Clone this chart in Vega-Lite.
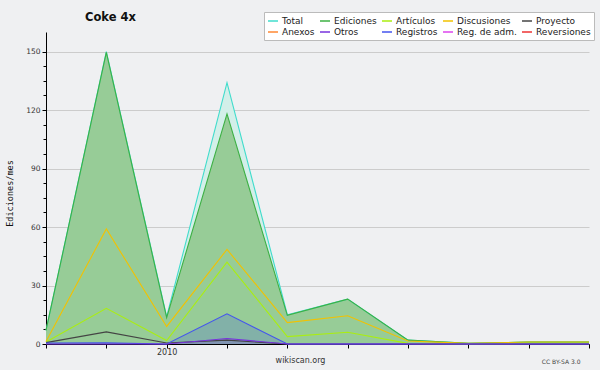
{
  "$schema": "https://vega.github.io/schema/vega-lite/v6.json",
  "width": 543,
  "height": 312,
  "autosize": "none",
  "padding": {"left": 46, "top": 32, "right": 11, "bottom": 26},
  "background": "#eff0f2",
  "config": {"view": {"stroke": null}, "font": "DejaVu Sans"},
  "title": {"text": "Coke 4x", "anchor": "start", "frame": "group", "dx": 39, "offset": -21, "baseline": "alphabetic", "fontSize": 11.5, "fontWeight": "bold", "color": "#111111", "font": "DejaVu Sans"},
  "data": {"values": [
    {"mes": "2009-11", "serie": "Total", "valor": 7},
    {"mes": "2009-12", "serie": "Total", "valor": 150},
    {"mes": "2010-01", "serie": "Total", "valor": 14},
    {"mes": "2010-02", "serie": "Total", "valor": 134},
    {"mes": "2010-03", "serie": "Total", "valor": 15},
    {"mes": "2010-04", "serie": "Total", "valor": 23},
    {"mes": "2010-05", "serie": "Total", "valor": 2},
    {"mes": "2010-06", "serie": "Total", "valor": 0.3},
    {"mes": "2010-07", "serie": "Total", "valor": 1},
    {"mes": "2010-08", "serie": "Total", "valor": 1},
    {"mes": "2009-11", "serie": "Ediciones", "valor": 7},
    {"mes": "2009-12", "serie": "Ediciones", "valor": 149.5},
    {"mes": "2010-01", "serie": "Ediciones", "valor": 13.5},
    {"mes": "2010-02", "serie": "Ediciones", "valor": 118},
    {"mes": "2010-03", "serie": "Ediciones", "valor": 14.7},
    {"mes": "2010-04", "serie": "Ediciones", "valor": 23},
    {"mes": "2010-05", "serie": "Ediciones", "valor": 2},
    {"mes": "2010-06", "serie": "Ediciones", "valor": 0.3},
    {"mes": "2010-07", "serie": "Ediciones", "valor": 1},
    {"mes": "2010-08", "serie": "Ediciones", "valor": 1},
    {"mes": "2009-11", "serie": "Discusiones", "valor": 1.3},
    {"mes": "2009-12", "serie": "Discusiones", "valor": 59},
    {"mes": "2010-01", "serie": "Discusiones", "valor": 9},
    {"mes": "2010-02", "serie": "Discusiones", "valor": 48.5},
    {"mes": "2010-03", "serie": "Discusiones", "valor": 11},
    {"mes": "2010-04", "serie": "Discusiones", "valor": 14.5},
    {"mes": "2010-05", "serie": "Discusiones", "valor": 1.5},
    {"mes": "2010-06", "serie": "Discusiones", "valor": 0.3},
    {"mes": "2010-07", "serie": "Discusiones", "valor": 1},
    {"mes": "2010-08", "serie": "Discusiones", "valor": 1},
    {"mes": "2009-11", "serie": "Artículos", "valor": 1},
    {"mes": "2009-12", "serie": "Artículos", "valor": 18.3},
    {"mes": "2010-01", "serie": "Artículos", "valor": 1.8},
    {"mes": "2010-02", "serie": "Artículos", "valor": 42},
    {"mes": "2010-03", "serie": "Artículos", "valor": 3.8},
    {"mes": "2010-04", "serie": "Artículos", "valor": 6},
    {"mes": "2010-05", "serie": "Artículos", "valor": 0.3},
    {"mes": "2010-06", "serie": "Artículos", "valor": 0},
    {"mes": "2010-07", "serie": "Artículos", "valor": 0.3},
    {"mes": "2010-08", "serie": "Artículos", "valor": 0.3},
    {"mes": "2009-11", "serie": "Proyecto", "valor": 0.7},
    {"mes": "2009-12", "serie": "Proyecto", "valor": 6.2},
    {"mes": "2010-01", "serie": "Proyecto", "valor": 0.5},
    {"mes": "2010-02", "serie": "Proyecto", "valor": 2},
    {"mes": "2010-03", "serie": "Proyecto", "valor": 0},
    {"mes": "2010-04", "serie": "Proyecto", "valor": 0},
    {"mes": "2010-05", "serie": "Proyecto", "valor": 0},
    {"mes": "2010-06", "serie": "Proyecto", "valor": 0},
    {"mes": "2010-07", "serie": "Proyecto", "valor": 0},
    {"mes": "2010-08", "serie": "Proyecto", "valor": 0},
    {"mes": "2009-11", "serie": "Registros", "valor": 0.5},
    {"mes": "2009-12", "serie": "Registros", "valor": 0.6},
    {"mes": "2010-01", "serie": "Registros", "valor": 0},
    {"mes": "2010-02", "serie": "Registros", "valor": 15.5},
    {"mes": "2010-03", "serie": "Registros", "valor": 0},
    {"mes": "2010-04", "serie": "Registros", "valor": 0},
    {"mes": "2010-05", "serie": "Registros", "valor": 0},
    {"mes": "2010-06", "serie": "Registros", "valor": 0},
    {"mes": "2010-07", "serie": "Registros", "valor": 0},
    {"mes": "2010-08", "serie": "Registros", "valor": 0},
    {"mes": "2009-11", "serie": "Otros", "valor": 0},
    {"mes": "2009-12", "serie": "Otros", "valor": 0},
    {"mes": "2010-01", "serie": "Otros", "valor": 0},
    {"mes": "2010-02", "serie": "Otros", "valor": 2.8},
    {"mes": "2010-03", "serie": "Otros", "valor": 0},
    {"mes": "2010-04", "serie": "Otros", "valor": 0},
    {"mes": "2010-05", "serie": "Otros", "valor": 0},
    {"mes": "2010-06", "serie": "Otros", "valor": 0},
    {"mes": "2010-07", "serie": "Otros", "valor": 0},
    {"mes": "2010-08", "serie": "Otros", "valor": 0}
  ]},
  "layer": [
    {
      "transform": [{"filter": "datum.serie == 'Total'"}],
      "mark": {"type": "area", "color": "#d3efe9"},
      "encoding": {
        "x": {"field": "mes", "type": "ordinal", "scale": {"type": "point", "padding": 0}, "axis": null},
        "y": {"field": "valor", "type": "quantitative", "scale": {"domain": [0, 150]}, "axis": null}
      }
    },
    {
      "transform": [{"filter": "datum.serie == 'Ediciones'"}],
      "mark": {"type": "area", "color": "#97cc97"},
      "encoding": {
        "x": {"field": "mes", "type": "ordinal", "axis": null},
        "y": {"field": "valor", "type": "quantitative", "axis": null}
      }
    },
    {
      "transform": [{"filter": "datum.serie == 'Registros' || datum.serie == 'Otros'"}],
      "mark": {"type": "area", "opacity": 0.2},
      "encoding": {
        "x": {"field": "mes", "type": "ordinal", "axis": null},
        "y": {"field": "valor", "type": "quantitative", "axis": null, "stack": null},
        "fill": {"field": "serie", "type": "nominal", "scale": {"domain": ["Registros", "Otros"], "range": ["#3344ee", "#7722dd"]}, "legend": null}
      }
    },
    {
      "mark": {"type": "line", "opacity": 0},
      "encoding": {
        "x": {"field": "mes", "type": "ordinal", "axis": {"orient": "bottom", "labels": false, "ticks": false, "domain": false, "grid": false, "title": "CC BY-SA 3.0", "titleFontSize": 6, "titleFontWeight": "normal", "titleColor": "#444444", "titleX": 534, "titleY": 17, "titleAlign": "right", "titleBaseline": "middle"}},
        "y": {"field": "valor", "type": "quantitative", "axis": {"orient": "left", "values": [7.5, 15, 22.5, 37.5, 45, 52.5, 67.5, 75, 82.5, 97.5, 105, 112.5, 127.5, 135, 142.5], "labels": false, "grid": false, "domain": false, "tickColor": "#000000", "tickSize": 3, "title": null}},
        "detail": {"field": "serie"}
      }
    },
    {
      "mark": {"type": "line", "strokeWidth": 1.1},
      "encoding": {
        "x": {"field": "mes", "type": "ordinal", "axis": {"orient": "bottom", "title": "wikiscan.org", "titleFontSize": 8, "titleFontWeight": "normal", "titleColor": "#333333", "titleX": 254, "titleY": 16, "titleBaseline": "middle", "labelExpr": "datum.value == '2010-01' ? '2010' : ''", "labelAngle": 0, "labelFontSize": 8, "labelColor": "#333333", "labelPadding": 0, "domainColor": "#000000", "tickColor": "#000000", "tickSize": 4, "grid": false}},
        "y": {"field": "valor", "type": "quantitative", "axis": {"orient": "left", "values": [0, 30, 60, 90, 120, 150], "grid": true, "gridColor": "#cccccc", "domainColor": "#000000", "tickColor": "#000000", "tickSize": 4, "labelFontSize": 7.5, "labelColor": "#333333", "labelPadding": 2, "title": "Ediciones/mes", "titleFont": "DejaVu Sans Mono", "titleFontSize": 8.5, "titleFontWeight": "normal", "titleColor": "#111111", "titleX": -37, "titleY": 161, "titleBaseline": "middle", "titleAngle": 270}},
        "color": {"field": "serie", "type": "nominal",
          "scale": {"domain": ["Total", "Ediciones", "Artículos", "Discusiones", "Proyecto", "Anexos", "Otros", "Registros", "Reg. de adm.", "Reversiones"],
                    "range": ["#40dccc", "#3cb043", "#aaee11", "#f2c200", "#444444", "#ff8833", "#7733dd", "#4455ee", "#dd44ee", "#ee3333"]},
          "legend": {"orient": "none", "direction": "horizontal", "legendX": 218, "legendY": -20, "columns": 5, "title": null, "symbolType": "stroke", "symbolSize": 100, "symbolStrokeWidth": 1.5, "labelFontSize": 9, "labelFont": "DejaVu Sans", "labelColor": "#222222", "fillColor": "#ffffff", "strokeColor": "#bbbbbb", "padding": 3, "rowPadding": 0, "columnPadding": 2, "labelOffset": 3}
        }
      }
    }
  ],
  "resolve": {"axis": {"x": "independent", "y": "independent"}}
}
